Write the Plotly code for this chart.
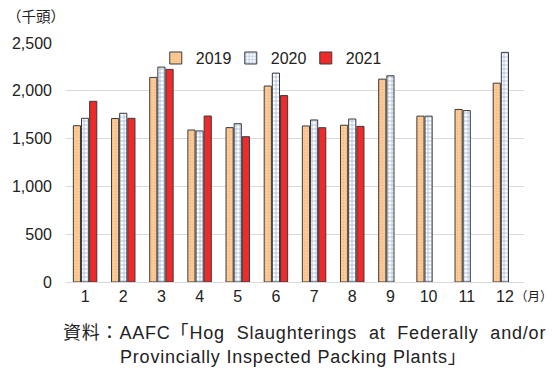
import plotly.graph_objects as go

months = ["1", "2", "3", "4", "5", "6", "7", "8", "9", "10", "11", "12"]
v2019 = [1635, 1710, 2140, 1590, 1615, 2050, 1632, 1640, 2122, 1735, 1805, 2080]
v2020 = [1712, 1765, 2248, 1580, 1656, 2185, 1695, 1705, 2157, 1735, 1793, 2402]
v2021 = [1890, 1712, 2224, 1736, 1520, 1950, 1614, 1628, None, None, None, None]
y_ticks = [0, 500, 1000, 1500, 2000, 2500]
y_tick_text = ["0", "500", "1,000", "1,500", "2,000", "2,500"]

FONT = "Liberation Sans, Noto Sans CJK JP, sans-serif"
OUTLINE = dict(color="#3a3a3a", width=1)

fig = go.Figure()
fig.add_trace(go.Bar(
    name="2019", x=months, y=v2019,
    marker=dict(color="#FFC891", line=OUTLINE,
                pattern=dict(shape=".", fgcolor="#E8A56A", bgcolor="#FFCC99",
                             size=3, solidity=0.3)),
))
fig.add_trace(go.Bar(
    name="2020", x=months, y=v2020,
    marker=dict(color="#3F6CC0", line=OUTLINE,
                pattern=dict(shape="+", fgcolor="#3F6CC0", bgcolor="#FFFFFF",
                             size=4, solidity=0.35)),
))
fig.add_trace(go.Bar(
    name="2021", x=months, y=v2021,
    marker=dict(color="#EE2A2A", line=OUTLINE),
))

SRC_STYLE = "letter-spacing:0.8px;word-spacing:6px"

fig.update_layout(
    width=552, height=373,
    margin=dict(l=62, r=28, t=43, b=91),
    paper_bgcolor="white", plot_bgcolor="white",
    barmode="group", bargap=0.36, bargroupgap=0.12,
    font=dict(family=FONT, size=16, color="#222222"),
    showlegend=True,
    legend=dict(orientation="h", x=0.196, y=1.008, xanchor="left", yanchor="top",
                font=dict(size=16), bgcolor="rgba(0,0,0,0)",
                itemwidth=30, entrywidth=30, traceorder="normal"),
    xaxis=dict(showgrid=False, ticks="", showline=False,
               tickfont=dict(size=16), ticklabelstandoff=3),
    yaxis=dict(range=[0, 2500], tickvals=y_ticks, ticktext=y_tick_text,
               showgrid=True, gridcolor="#D9D9D9", gridwidth=1,
               zeroline=True, zerolinecolor="#D9D9D9", zerolinewidth=1,
               showline=False, ticks="", tickfont=dict(size=16), ticklabelstandoff=13),
    annotations=[
        dict(text="（千頭）", x=0, y=17, xref="paper", yref="paper",
             showarrow=False, xanchor="left", yanchor="middle", font=dict(size=14.5)),
        dict(text="（月）", x=513, y=297, xref="paper", yref="paper",
             showarrow=False, xanchor="left", yanchor="middle", font=dict(size=12.5)),
        dict(text=f'<span style="{SRC_STYLE}">資料：AAFC「Hog Slaughterings at Federally and/or</span>',
             x=57, y=333, xref="paper", yref="paper",
             showarrow=False, xanchor="left", yanchor="middle", font=dict(size=18)),
        dict(text='<span style="letter-spacing:0.8px">Provincially Inspected Packing Plants」</span>',
             x=114, y=357, xref="paper", yref="paper",
             showarrow=False, xanchor="left", yanchor="middle", font=dict(size=18)),
    ],
)

# Annotation positions above are given in page pixels; convert to paper fractions.
W, H = 552, 373
L, R, T, B = 62, 28, 43, 91
pw, ph = W - L - R, H - T - B
for a in fig.layout.annotations:
    a.x = (a.x - L) / pw
    a.y = 1 - (a.y - T) / ph

fig.write_html("out.html")
